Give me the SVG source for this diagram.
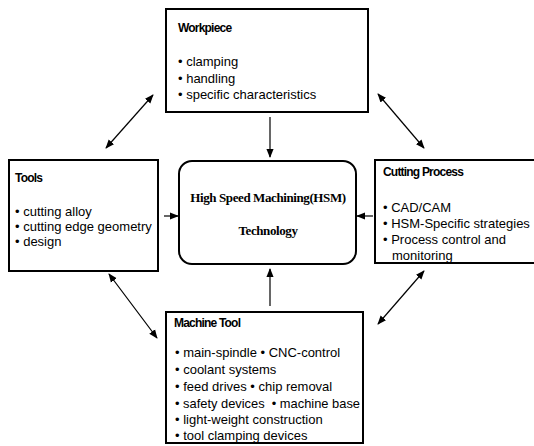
<svg xmlns="http://www.w3.org/2000/svg" width="534" height="446" viewBox="0 0 534 446">
<defs>
<marker id="ah" viewBox="0 0 10 10" refX="9" refY="5" markerWidth="9" markerHeight="9" markerUnits="userSpaceOnUse" orient="auto-start-reverse">
<path d="M0,1 L10,5 L0,9 z" fill="#000"/>
</marker>
<style>
.box{fill:#fff;stroke:#000;stroke-width:2}
.t{font-family:"Liberation Sans",Arial,sans-serif;font-size:13px;fill:#000}
.h{font-family:"Liberation Sans",Arial,sans-serif;font-size:12px;font-weight:bold;letter-spacing:-0.8px;fill:#000}
.c{font-family:"Liberation Serif","Times New Roman",serif;font-size:13px;font-weight:bold;letter-spacing:-0.4px;fill:#000;text-anchor:middle}
.a{stroke:#000;stroke-width:1.2;fill:none}
</style>
</defs>
<rect width="534" height="446" fill="#fff"/>
<g id="connectors">
<line class="a" x1="270" y1="117" x2="270" y2="157" marker-end="url(#ah)"/>
<line class="a" x1="164" y1="216" x2="178" y2="216" marker-end="url(#ah)"/>
<line class="a" x1="373" y1="216" x2="357" y2="216" marker-end="url(#ah)"/>
<line class="a" x1="270" y1="306" x2="270" y2="269" marker-end="url(#ah)"/>
<line class="a" x1="153" y1="95" x2="106" y2="148" marker-start="url(#ah)" marker-end="url(#ah)"/>
<line class="a" x1="378" y1="94" x2="424" y2="148" marker-start="url(#ah)" marker-end="url(#ah)"/>
<line class="a" x1="109" y1="274" x2="157" y2="338" marker-start="url(#ah)" marker-end="url(#ah)"/>
<line class="a" x1="424" y1="271" x2="378" y2="324" marker-start="url(#ah)" marker-end="url(#ah)"/>
</g>
<g id="workpiece">
<rect class="box" x="166" y="9" width="202" height="103"/>
<text class="h" x="178" y="32">Workpiece</text>
<text class="t" x="178" y="66">• clamping</text>
<text class="t" x="178" y="83">• handling</text>
<text class="t" x="178" y="99">• specific characteristics</text>
</g>
<g id="tools">
<rect class="box" x="9" y="160" width="149" height="111"/>
<text class="h" x="15" y="182">Tools</text>
<text class="t" x="15" y="216">• cutting alloy</text>
<text class="t" x="15" y="231">• cutting edge geometry</text>
<text class="t" x="15" y="246">• design</text>
</g>
<g id="hsm">
<rect class="box" x="179" y="161" width="177" height="103" rx="13" ry="13"/>
<text class="c" x="268" y="202">High Speed Machining(HSM)</text>
<text class="c" x="268" y="235">Technology</text>
</g>
<g id="cutting-process">
<rect class="box" x="375" y="160" width="170" height="103"/>
<text class="h" x="383" y="176">Cutting Process</text>
<text class="t" x="383" y="212">• CAD/CAM</text>
<text class="t" x="383" y="228">• HSM-Specific strategies</text>
<text class="t" x="383" y="244">• Process control and</text>
<text class="t" x="392" y="260">monitoring</text>
</g>
<g id="machine-tool">
<rect class="box" x="166" y="312" width="197" height="131"/>
<text class="h" x="174" y="327">Machine Tool</text>
<text class="t" x="175" y="357">• main-spindle • CNC-control</text>
<text class="t" x="175" y="374">• coolant systems</text>
<text class="t" x="175" y="391">• feed drives • chip removal</text>
<text class="t" x="175" y="408" xml:space="preserve" textLength="185" lengthAdjust="spacingAndGlyphs">• safety devices  • machine base</text>
<text class="t" x="175" y="424">• light-weight construction</text>
<text class="t" x="175" y="440">• tool clamping devices</text>
</g>
</svg>
